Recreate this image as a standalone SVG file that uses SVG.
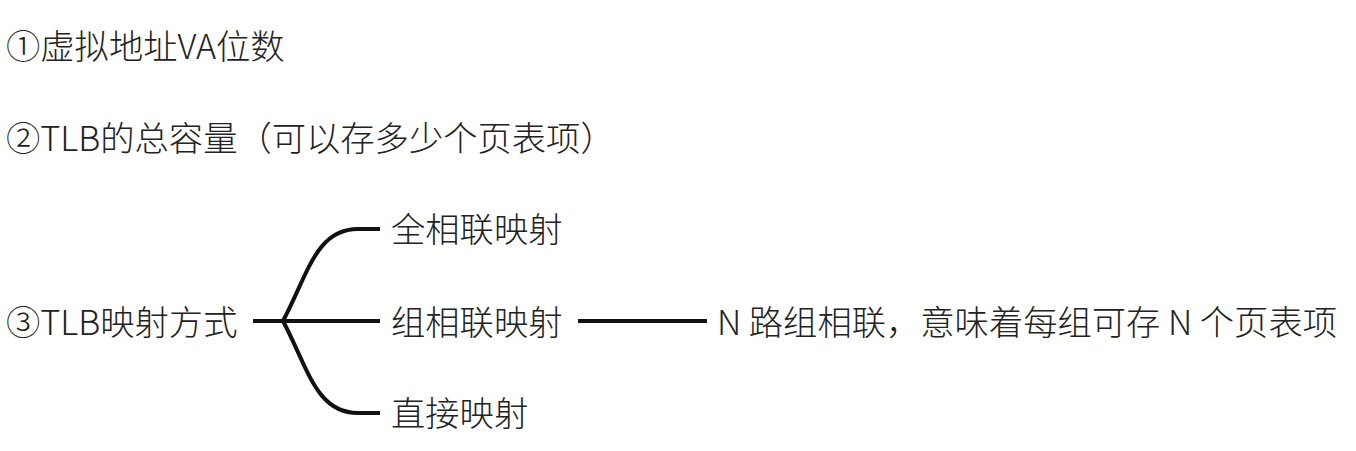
<svg xmlns="http://www.w3.org/2000/svg" width="1356" height="451" viewBox="0 0 1356 451">
<style>
text{font-family:"Noto Sans CJK SC","Noto Sans",sans-serif;font-size:34.3px;font-weight:300;fill:#222}
.c{fill:none;stroke:#111;stroke-width:4;stroke-linecap:butt}
</style>
<rect width="1356" height="451" fill="#fff"/>
<g id="n1"><text x="6" y="58.5">①虚拟地址VA位数</text></g>
<g id="n2"><text x="6" y="150.5">②TLB的总容量（可以存多少个页表项）</text></g>
<g id="n3"><text x="6" y="334.5">③TLB映射方式</text></g>
<g id="n4"><text x="391" y="241.5">全相联映射</text></g>
<g id="n5"><text x="391" y="334.5">组相联映射</text></g>
<g id="n6"><text x="391" y="425.5">直接映射</text></g>
<g id="n7"><text x="717" y="334.5">N 路组相联，意味着每组可存 N 个页表项</text></g>
<g id="connectors">
<path class="c" d="M253,321 L380,321"/>
<path class="c" d="M283,321 C308,274 316,229 358,229 L380,229"/>
<path class="c" d="M283,321 C308,368 316,413 358,413 L380,413"/>
<path class="c" d="M578,321 L707,321"/>
</g>
</svg>
